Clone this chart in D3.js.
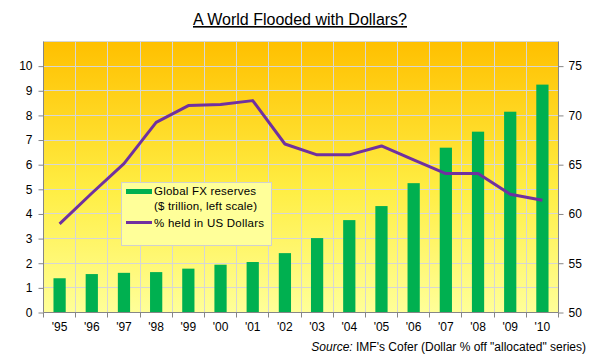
<!DOCTYPE html>
<meta charset="utf-8">
<script src="https://cdn.jsdelivr.net/npm/d3@7"></script>
<style>
  body { margin: 0; background: #fff; }
  text { font-family: "Liberation Sans", Arial, sans-serif; }
</style>
<body>
<script>

// data
var years = ["'95","'96","'97","'98","'99","'00","'01","'02","'03","'04","'05","'06","'07","'08","'09","'10"];
var reserves = [1.39, 1.56, 1.61, 1.64, 1.78, 1.94, 2.05, 2.41, 3.02, 3.75, 4.32, 5.25, 6.69, 7.34, 8.15, 9.25];
var usdShare = [59.0, 62.1, 65.1, 69.3, 71.0, 71.1, 71.5, 67.1, 66.0, 66.0, 66.9, 65.5, 64.1, 64.1, 62.0, 61.4];
var leftTicks = [0,1,2,3,4,5,6,7,8,9,10];
var rightTicks = [50,55,60,65,70,75];

var W = 602, H = 361;
var margin = {top: 41.5, right: 43.5, bottom: 48.5, left: 43.5},
    width = W - margin.left - margin.right,
    height = H - margin.top - margin.bottom;

var svg = d3.select("body").append("svg")
    .attr("width", W)
    .attr("height", H);

var defs = svg.append("defs");
var grad = defs.append("linearGradient")
    .attr("id", "bg")
    .attr("x1", 0).attr("y1", 0).attr("x2", 0).attr("y2", 1);
grad.append("stop").attr("offset", "0%").attr("stop-color", "#ffc000");
grad.append("stop").attr("offset", "55%").attr("stop-color", "#ffee44");
grad.append("stop").attr("offset", "100%").attr("stop-color", "#ffff99");

var g = svg.append("g")
    .attr("transform", "translate(" + margin.left + "," + margin.top + ")");

var x = d3.scaleBand().domain(years).range([0, width]);
var yL = d3.scaleLinear().domain([0, 11]).range([height, 0]);
var yR = d3.scaleLinear().domain([50, 77.5]).range([height, 0]);

// background
g.append("rect")
    .attr("width", width)
    .attr("height", height)
    .style("fill", "url(#bg)");

// grid lines
g.selectAll(".hgrid")
    .data(d3.range(1, 12))
    .enter().append("line")
    .attr("x1", 0).attr("x2", width)
    .attr("y1", d => Math.round(yL(d))).attr("y2", d => Math.round(yL(d)))
    .style("stroke", "#d6d6d6").style("stroke-width", 1);

g.selectAll(".vgrid")
    .data(years.slice(1))
    .enter().append("line")
    .attr("x1", d => Math.round(x(d))).attr("x2", d => Math.round(x(d)))
    .attr("y1", 0).attr("y2", height)
    .style("stroke", "#d6d6d6").style("stroke-width", 1);

// bars
var barW = x.bandwidth() * 0.38;
g.selectAll(".bar")
    .data(reserves)
    .enter().append("rect")
    .attr("x", (d, i) => x(years[i]) + (x.bandwidth() - barW) / 2)
    .attr("y", d => yL(d))
    .attr("width", barW)
    .attr("height", d => height - yL(d))
    .style("fill", "#00b050");

// line
var line = d3.line()
    .x((d, i) => x(years[i]) + x.bandwidth() / 2)
    .y(d => yR(d));

g.append("path")
    .attr("d", line(usdShare))
    .style("fill", "none")
    .style("stroke", "#7030a0")
    .style("stroke-width", 3)
    .style("stroke-linejoin", "round");

// axes
var axisColor = "#868686";
var yAxisL = d3.axisLeft(yL).tickValues(leftTicks).tickSize(5).tickPadding(6);
var yAxisR = d3.axisRight(yR).tickValues(rightTicks).tickSize(5).tickPadding(5);

var gl = g.append("g").call(yAxisL);
var gr = g.append("g").attr("transform", "translate(" + width + ",0)").call(yAxisR);
[gl, gr].forEach(a => {
    a.select(".domain").attr("d", "M0,0V" + height).style("stroke", axisColor);
    a.selectAll(".tick line").style("stroke", axisColor);
    a.selectAll(".tick text").style("font-size", "12px").style("fill", "#000")
        .style("font-family", "'Liberation Sans', Arial, sans-serif");
});

// x axis: ticks at category boundaries
var gx = g.append("g").attr("transform", "translate(0," + height + ")");
gx.append("line")
    .attr("x1", 0).attr("x2", width)
    .style("stroke", axisColor);
gx.selectAll(".xt")
    .data(years.concat(["end"]))
    .enter().append("line")
    .attr("x1", (d, i) => Math.round(i * x.step())).attr("x2", (d, i) => Math.round(i * x.step()))
    .attr("y1", 0).attr("y2", 5)
    .style("stroke", axisColor);
gx.selectAll(".xl")
    .data(years)
    .enter().append("text")
    .attr("x", d => x(d) + x.bandwidth() / 2)
    .attr("y", 18)
    .style("text-anchor", "middle")
    .style("font-size", "12px")
    .text(d => d);

// legend
var lg = svg.append("g").attr("transform", "translate(121.5,182.5)");
lg.append("rect")
    .attr("width", 150).attr("height", 63)
    .style("fill", "#ffff99")
    .style("stroke", "#d0d0d0");
lg.append("rect")
    .attr("x", 4.5).attr("y", 6.5).attr("width", 26).attr("height", 5)
    .style("fill", "#00b050");
lg.append("text").attr("x", 32.5).attr("y", 12.5).style("font-size", "11.5px")
    .attr("textLength", 102).text("Global FX  reserves");
lg.append("text").attr("x", 32.5).attr("y", 27.5).style("font-size", "11.5px")
    .attr("textLength", 103).text("($ trillion, left scale)");
lg.append("line")
    .attr("x1", 4.5).attr("x2", 30.5).attr("y1", 40).attr("y2", 40)
    .style("stroke", "#7030a0").style("stroke-width", 3);
lg.append("text").attr("x", 32.5).attr("y", 44).style("font-size", "11.5px")
    .attr("textLength", 110).text("% held in US Dollars");

// title
svg.append("text")
    .attr("x", 300)
    .attr("y", 25)
    .style("text-anchor", "middle")
    .style("font-size", "16px")
    .style("text-decoration", "underline")
    .style("fill", "#000")
    .text("A World Flooded with Dollars?");

// source
var src = svg.append("text")
    .attr("x", 586)
    .attr("y", 351)
    .style("text-anchor", "end")
    .style("font-size", "12px");
src.append("tspan").style("font-style", "italic").text("Source:");
src.append("tspan").text(" IMF's Cofer (Dollar % off \"allocated\" series)");

</script>
</body>
</html>
